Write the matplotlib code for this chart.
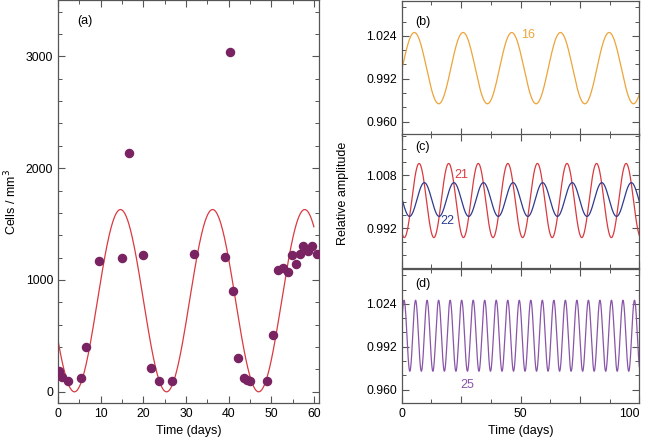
import numpy as np
import matplotlib
matplotlib.use("Agg")
import matplotlib.pyplot as plt
from matplotlib.ticker import MultipleLocator, FixedLocator

plt.rcParams['font.family'] = ['Liberation Sans', 'DejaVu Sans']
plt.rcParams['font.size'] = 9

# panel (a) measured cell counts
days = [0.2, 0.9, 2.3, 5.4, 6.6, 9.6, 15.0, 16.6, 20.0, 21.8, 23.6, 26.7,
        31.9, 39.1, 40.3, 41.1, 42.3, 43.5, 44.3, 45.1, 49.1, 50.4, 51.6,
        52.8, 54.0, 54.8, 55.9, 56.7, 57.5, 58.7, 59.5, 60.8]
cells = [190, 130, 100, 120, 400, 1170, 1195, 2140, 1220, 210, 100, 100,
         1230, 1205, 3040, 905, 300, 120, 110, 100, 100, 505, 1085,
         1110, 1070, 1220, 1145, 1230, 1300, 1255, 1300, 1230]

# fitted curve of panel (a): mean, amplitude, period, trough day
fit_mean, fit_amp, fit_period, fit_trough = 815, 815, 21.6, 3.85

# right panels: (label, colour, mean, amplitude, period, peak day, label x, label y)
panel_b = [("16", "#EDA43A", 0.9999, 0.0266, 20.5, 5.3, 53, 1.025)]
panel_c = [("21", "#D93A40", 1.0004, 0.0112, 12.45, 7.3, 25.0, 1.008),
           ("22", "#2E3B8E", 1.0007, 0.0051, 12.45, 9.5, 19.2, 0.9942)]
panel_d = [("25", "#8A55A8", 1.0002, 0.0265, 4.85, 0.97, 27.4, 0.9637)]

spine_col = "#555555"


def style(ax):
    for s in ax.spines.values():
        s.set_color(spine_col)
        s.set_linewidth(0.9)
    ax.tick_params(which='both', direction='in', top=True, right=True,
                   color=spine_col, labelcolor='black', labelsize=8.8)
    ax.tick_params(which='major', length=5, width=0.8)
    ax.tick_params(which='minor', length=3, width=0.7)


fig = plt.figure(figsize=(6.48, 4.4), dpi=100)

# panel (a)
ax = fig.add_axes([0.0895, 0.0841, 0.4028, 0.9149])
t = np.linspace(0, 60, 600)
ax.plot(t, fit_mean - fit_amp * np.cos(2 * np.pi * (t - fit_trough) / fit_period),
        color="#D93A40", lw=0.9)
ax.scatter(days, cells, s=34, color="#7A2362", zorder=3)
ax.set_xlim(0, 61.2)
ax.set_ylim(-100, 3500)
ax.xaxis.set_major_locator(MultipleLocator(10))
ax.xaxis.set_minor_locator(MultipleLocator(5))
ax.yaxis.set_major_locator(MultipleLocator(1000))
ax.yaxis.set_minor_locator(MultipleLocator(200))
ax.set_xlabel("Time (days)", labelpad=4)
ax.set_ylabel("Cells / mm$^3$", labelpad=5)
ax.text(0.103, 0.948, "(a)", transform=ax.transAxes, ha='center', va='center')
style(ax)

# right panels
tt = np.linspace(0, 100, 2000)
rows = [(panel_b, 0.6932, (0.950, 1.050), 0.032, 0.032 / 3, "(b)", 0.847),
        (panel_c, 0.3909, (0.980, 1.0205), 0.016, 0.004, "(c)", 0.90),
        (panel_d, 0.0841, (0.950, 1.050), 0.032, 0.032 / 3, "(d)", 0.888)]
axes = []
for series, bottom, ylim, major, minor, tag, tag_y in rows:
    a = fig.add_axes([0.620, bottom, 0.3666, 0.3045])
    for lab, col, mean, amp, per, peak, lx, ly in series:
        a.plot(tt, mean + amp * np.cos(2 * np.pi * (tt - peak) / per), color=col, lw=0.9)
        a.text(lx, ly, lab, color=col, ha='center', va='center', fontsize=9)
    a.set_xlim(0, 100)
    a.set_ylim(*ylim)
    a.yaxis.set_major_locator(MultipleLocator(major))
    a.yaxis.set_minor_locator(MultipleLocator(minor))
    a.yaxis.set_major_formatter(plt.FormatStrFormatter('%.3f'))
    a.xaxis.set_major_locator(FixedLocator([0, 25, 50, 75, 100]))
    a.xaxis.set_minor_locator(MultipleLocator(12.5))
    a.text(0.088, tag_y, tag, transform=a.transAxes, ha='center', va='center')
    style(a)
    a.set_xticklabels([])
    axes.append(a)

labels = axes[-1].set_xticklabels(['0', '', '50', '', '100'])
labels[-1].set_horizontalalignment('right')
axes[-1].set_xlabel("Time (days)", labelpad=4)
fig.text(0.530, 0.56, "Relative amplitude", rotation=90, ha='center', va='center')

fig.savefig("out.png", dpi=100)
